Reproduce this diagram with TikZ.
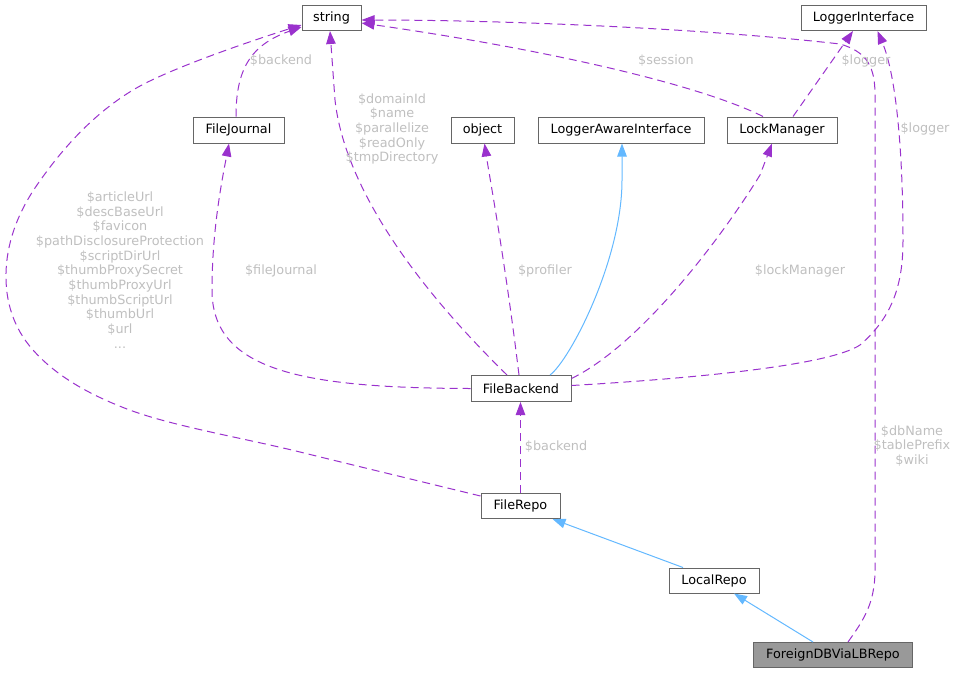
\documentclass[tikz,border=0pt]{standalone}
\usepackage{fontspec}
\setmainfont{DejaVu Sans}
\usetikzlibrary{arrows.meta}
\definecolor{purp}{HTML}{9A32CD}
\definecolor{inh}{HTML}{63B8FF}
\definecolor{boxgray}{HTML}{666666}
\definecolor{lblgray}{HTML}{BFBFBF}
\definecolor{hlfill}{HTML}{999999}
\tikzset{
  cls/.style={draw=boxgray, fill=white, line width=1pt, inner sep=0pt,
    minimum height=25pt, text=black, font=\fontsize{12.8}{14.7}\selectfont},
  lbl/.style={text=lblgray, align=center, inner sep=0pt,
    font=\fontsize{12.8}{14.7}\selectfont},
  dep/.style={draw=purp, line width=1pt, dash pattern=on 8pt off 5pt,
    -{Triangle[length=13pt,width=9.5pt,fill=purp]}},
  inhe/.style={draw=inh, line width=1pt,
    -{Triangle[length=13pt,width=9.5pt,fill=inh]}}
}
\begin{document}
\begin{tikzpicture}[x=1pt,y=-1pt]
\useasboundingbox (0,0) rectangle (958,673);
% nodes
\node[cls, minimum width=59pt] (str) at (331.5,18) {string};
\node[cls, minimum width=125pt] (li) at (863.5,18) {LoggerInterface};
\node[cls, minimum width=91pt, minimum height=26pt] (fj) at (238.5,130) {FileJournal};
\node[cls, minimum width=63pt, minimum height=26pt] (obj) at (482.5,130) {object};
\node[cls, minimum width=166pt, minimum height=26pt] (lai) at (621,130) {LoggerAwareInterface};
\node[cls, minimum width=110pt, minimum height=26pt] (lm) at (782,130) {LockManager};
\node[cls, minimum width=100pt, minimum height=26pt] (fb) at (521,388.5) {FileBackend};
\node[cls, minimum width=79pt] (fr) at (520.5,506) {FileRepo};
\node[cls, minimum width=90pt] (lr) at (714,580.5) {LocalRepo};
\node[cls, fill=hlfill, minimum width=159pt] (fdb) at (833,655) {ForeignDBViaLBRepo};

% ForeignDBViaLBRepo -> string
\draw[dep] ([xshift=15pt]fdb.north) .. controls (862,622) and (875,605) .. (875,570)
  -- (875,95) .. controls (875,68) and (868,52) .. (840,44)
  .. controls (700,28) and (500,20) .. ([yshift=-2pt]str.east);
% FileRepo -> string
\draw[dep] plot[smooth, tension=0.6] coordinates {([yshift=10pt]fr.west) (300,452) (127,409) (33,350) (6,273) (37,185) (133,90) ([yshift=-7pt]str.west)};
% FileJournal -> string
\draw[dep] ([xshift=-2.5pt]fj.north) .. controls (236,70) and (250,45) .. ([yshift=-9pt]str.west);
% FileBackend -> string
\draw[dep] ([xshift=-14pt]fb.north) .. controls (420,290) and (345,190) .. (335,100) -- ([xshift=-1.5pt]str.south);
% FileBackend -> FileJournal
\draw[dep] (fb.west) .. controls (300,388) and (212,370) .. (212,290)
  .. controls (212,230) and (222,180) .. ([xshift=-9.5pt]fj.south);
% FileBackend -> object
\draw[dep] ([xshift=-2pt]fb.north) .. controls (505,260) and (490,180) .. ([xshift=2pt]obj.south);
% FileBackend -> LoggerAwareInterface
\draw[inhe] ([xshift=29pt]fb.north) .. controls (570,360) and (622,260) .. (622,180) -- ([xshift=1pt]lai.south);
% FileBackend -> LockManager
\draw[dep] ([yshift=10pt]fb.east) .. controls (640,345) and (720,240) .. (760,175) -- ([xshift=-10pt]lm.south);
% FileBackend -> LoggerInterface
\draw[dep] ([yshift=3pt]fb.east) .. controls (700,378) and (830,365) .. (860,345)
  .. controls (895,315) and (903,280) .. (903,240)
  .. controls (903,150) and (896,75) .. ([xshift=14pt]li.south);
% LockManager -> LoggerInterface
\draw[dep] ([xshift=11pt]lm.north) -- ([xshift=-10.5pt]li.south);
% LockManager -> string
\draw[dep] ([xshift=-19pt]lm.north) .. controls (700,85) and (550,50) .. ([yshift=-5pt]str.east);
% FileRepo -> FileBackend
\draw[dep] (fr.north) -- ([xshift=-0.5pt]fb.south);
% LocalRepo -> FileRepo
\draw[inhe] ([xshift=-31pt]lr.north) -- ([xshift=32pt]fr.south);
% ForeignDBViaLBRepo -> LocalRepo
\draw[inhe] ([xshift=-20pt]fdb.north) -- ([xshift=20pt]lr.south);

% labels
\node[lbl] (l1) at (912,446) {\$dbName\\\$tablePrefix\\\$wiki};
\node[lbl] (l2) at (120,270) {\$articleUrl\\\$descBaseUrl\\\$favicon\\\$pathDisclosureProtection\\\$scriptDirUrl\\\$thumbProxySecret\\\$thumbProxyUrl\\\$thumbScriptUrl\\\$thumbUrl\\\$url\\...};
\node[lbl] (l3) at (281,61) {\$backend};
\node[lbl] (l4) at (392,129) {\$domainId\\\$name\\\$parallelize\\\$readOnly\\\$tmpDirectory};
\node[lbl] (l5) at (281,271) {\$fileJournal};
\node[lbl] (l6) at (545,271) {\$profiler};
\node[lbl] (l7) at (800,271) {\$lockManager};
\node[lbl] (l8) at (925,129) {\$logger};
\node[lbl] (l9) at (866,61) {\$logger};
\node[lbl] (l10) at (666,61) {\$session};
\node[lbl] (l11) at (556,447) {\$backend};
\end{tikzpicture}
\end{document}
